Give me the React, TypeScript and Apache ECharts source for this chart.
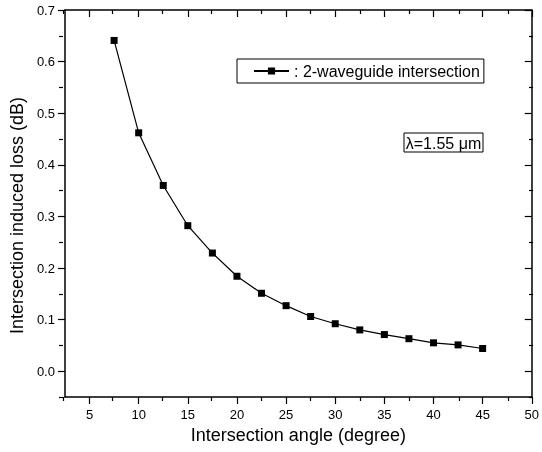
import React, { useEffect, useRef } from "react";
import * as echarts from "echarts";

const angles = [7.5, 10, 12.5, 15, 17.5, 20, 22.5, 25, 27.5, 30, 32.5, 35, 37.5, 40, 42.5, 45];
const loss = [0.641, 0.462, 0.36, 0.282, 0.229, 0.184, 0.151, 0.127, 0.106, 0.092, 0.08, 0.071, 0.063, 0.055, 0.051, 0.044];
const xMajorTicks = [5, 10, 15, 20, 25, 30, 35, 40, 45, 50];
const xMinorTicks = [2.5, 7.5, 12.5, 17.5, 22.5, 27.5, 32.5, 37.5, 42.5, 47.5];
const yMajorTicks = [0, 0.1, 0.2, 0.3, 0.4, 0.5, 0.6, 0.7];
const yMinorTicks = [-0.05, 0.05, 0.15, 0.25, 0.35, 0.45, 0.55, 0.65];
const seriesName = ": 2-waveguide intersection";
const xTitle = "Intersection angle (degree)";
const yTitle = "Intersection induced loss (dB)";
const noteText = "λ=1.55 μm";

const FONT = "Arial, 'Liberation Sans', sans-serif";

export default function App() {
  const ref = useRef<HTMLDivElement>(null);
  useEffect(() => {
    if (!ref.current) return;
    const chart = echarts.init(ref.current, undefined, { renderer: "svg" });
    const gridBox = { left: 63, right: 9, top: 10, bottom: 55 };
    const option: any = {
      animation: false,
      grid: [{ ...gridBox }, { ...gridBox }],
      xAxis: [
        {
          type: "value", min: 2.5, max: 50, gridIndex: 0, position: "bottom",
          name: xTitle, nameLocation: "middle", nameGap: 28,
          nameTextStyle: { fontSize: 18, color: "#000", fontFamily: FONT },
          axisLine: { show: true, onZero: false, lineStyle: { color: "#000", width: 1.5 } },
          axisTick: { show: true, customValues: xMajorTicks, length: 7, lineStyle: { color: "#000", width: 1.2 } },
          axisLabel: { customValues: xMajorTicks, fontSize: 13, color: "#000", fontFamily: FONT, margin: 11 },
          splitLine: { show: false },
        },
        {
          type: "value", min: 2.5, max: 50, gridIndex: 0, position: "top",
          axisLine: { show: true, onZero: false, lineStyle: { color: "#000", width: 1.5 } },
          axisTick: { show: true, inside: true, customValues: xMajorTicks, length: 7, lineStyle: { color: "#000", width: 1.2 } },
          axisLabel: { show: false },
          splitLine: { show: false },
        },
        {
          type: "value", min: 2.5, max: 50, gridIndex: 1, position: "bottom",
          axisLine: { show: false, onZero: false },
          axisTick: { show: true, customValues: xMinorTicks, length: 4, lineStyle: { color: "#000", width: 1.2 } },
          axisLabel: { show: false },
          splitLine: { show: false },
        },
        {
          type: "value", min: 2.5, max: 50, gridIndex: 1, position: "top",
          axisLine: { show: false, onZero: false },
          axisTick: { show: true, inside: true, customValues: xMinorTicks, length: 4, lineStyle: { color: "#000", width: 1.2 } },
          axisLabel: { show: false },
          splitLine: { show: false },
        },
      ],
      yAxis: [
        {
          type: "value", min: -0.05, max: 0.7, gridIndex: 0, position: "left",
          name: yTitle, nameLocation: "middle", nameGap: 33,
          nameTextStyle: { fontSize: 18, color: "#000", fontFamily: FONT, padding: [0, 24, 0, 0] },
          axisLine: { show: true, onZero: false, lineStyle: { color: "#000", width: 1.5 } },
          axisTick: { show: true, customValues: yMajorTicks, length: 7, lineStyle: { color: "#000", width: 1.2 } },
          axisLabel: { customValues: yMajorTicks, fontSize: 13, color: "#000", fontFamily: FONT, margin: 10, formatter: (v: number) => v.toFixed(1) },
          splitLine: { show: false },
        },
        {
          type: "value", min: -0.05, max: 0.7, gridIndex: 0, position: "right",
          axisLine: { show: true, onZero: false, lineStyle: { color: "#000", width: 1.5 } },
          axisTick: { show: true, inside: true, customValues: yMajorTicks, length: 7, lineStyle: { color: "#000", width: 1.2 } },
          axisLabel: { show: false },
          splitLine: { show: false },
        },
        {
          type: "value", min: -0.05, max: 0.7, gridIndex: 1, position: "left",
          axisLine: { show: false, onZero: false },
          axisTick: { show: true, customValues: yMinorTicks, length: 4, lineStyle: { color: "#000", width: 1.2 } },
          axisLabel: { show: false },
          splitLine: { show: false },
        },
        {
          type: "value", min: -0.05, max: 0.7, gridIndex: 1, position: "right",
          axisLine: { show: false, onZero: false },
          axisTick: { show: true, inside: true, customValues: yMinorTicks, length: 4, lineStyle: { color: "#000", width: 1.2 } },
          axisLabel: { show: false },
          splitLine: { show: false },
        },
      ],
      legend: {
        show: true, left: 237, top: 59, padding: [4, 4, 4, 16],
        borderColor: "#000", borderWidth: 1, itemWidth: 35, itemHeight: 9,
        selectedMode: false,
        textStyle: { fontSize: 16, color: "#000", fontFamily: FONT },
        data: [seriesName],
      },
      graphic: [
        { type: "rect", shape: { x: 404, y: 133, width: 79, height: 19 }, style: { fill: "#fff", stroke: "#000", lineWidth: 1 } },
        {
          type: "text", x: 443.5, y: 143,
          style: { text: noteText, fontSize: 16, fontFamily: FONT, fill: "#000", align: "center", verticalAlign: "middle", textAlign: "center", textVerticalAlign: "middle" },
        },
      ],
      series: [
        {
          name: seriesName, type: "line", xAxisIndex: 0, yAxisIndex: 0,
          data: angles.map((a, i) => [a, loss[i]]),
          symbol: "rect", symbolSize: 7,
          lineStyle: { color: "#000", width: 1.2 },
          itemStyle: { color: "#000" },
        },
      ],
    };
    chart.setOption(option);
    return () => chart.dispose();
  }, []);
  return <div ref={ref} style={{ position: "fixed", left: 0, top: 0, width: 542, height: 452 }} />;
}
